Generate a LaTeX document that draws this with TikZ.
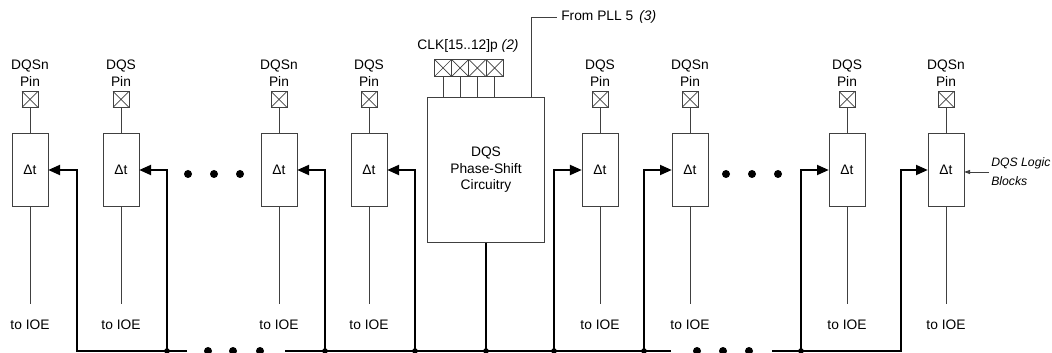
\documentclass[tikz,border=0pt]{standalone}
\usepackage{fontspec}
\setmainfont{Liberation Sans}
\usetikzlibrary{positioning,arrows.meta}

\begin{document}
\begin{tikzpicture}[x=0.025cm, y=-0.025cm, font=\fontsize{9.8}{11.7}\selectfont]
  \tikzstyle{delay}=[draw=black!75,line width=0.6pt,minimum width=0.9cm,minimum height=1.825cm,inner sep=0pt,outer sep=0pt]
  \tikzstyle{pad}=[draw=black!75,line width=0.5pt,minimum size=0.4cm,inner sep=0pt,outer sep=0pt,
    path picture={\draw[black!75,line width=0.5pt] (path picture bounding box.north west) -- (path picture bounding box.south east)
      (path picture bounding box.south west) -- (path picture bounding box.north east);}]
  \tikzstyle{clkpad}=[pad,minimum size=0.43cm]
  \tikzstyle{padlbl}=[align=center,inner sep=0pt]
  \tikzstyle{ioe}=[inner xsep=0pt,inner ysep=0.4cm]
  \tikzstyle{psbox}=[draw=black!75,line width=0.6pt,minimum width=2.925cm,minimum height=3.625cm,align=center,outer sep=0pt]
  \tikzstyle{wire}=[draw=black!75,line width=0.6pt]
  \tikzstyle{bus}=[line width=2pt]
  \tikzstyle{feed}=[bus,-{Triangle[length=0.3cm,width=0.24cm]}]
  \useasboundingbox (0,0) rectangle (1052,353);

  % delay cells
  \node[delay] (d1) at (30,170) {Δt};
  \node[delay] (d2) at (121,170) {Δt};
  \node[delay] (d3) at (279,170) {Δt};
  \node[delay] (d4) at (369,170) {Δt};
  \node[delay] (d5) at (600,170) {Δt};
  \node[delay] (d6) at (690,170) {Δt};
  \node[delay] (d7) at (847,170) {Δt};
  \node[delay] (d8) at (946,170) {Δt};

  % pins and their labels
  \node[pad] (p1) [above=0.65cm of d1] {};
  \node[pad] (p2) [above=0.65cm of d2] {};
  \node[pad] (p3) [above=0.65cm of d3] {};
  \node[pad] (p4) [above=0.65cm of d4] {};
  \node[pad] (p5) [above=0.65cm of d5] {};
  \node[pad] (p6) [above=0.65cm of d6] {};
  \node[pad] (p7) [above=0.65cm of d7] {};
  \node[pad] (p8) [above=0.65cm of d8] {};
  \node[padlbl] (l1) [above=0.12cm of p1] {DQSn\\Pin};
  \node[padlbl] (l2) [above=0.12cm of p2] {DQS\\Pin};
  \node[padlbl] (l3) [above=0.12cm of p3] {DQSn\\Pin};
  \node[padlbl] (l4) [above=0.12cm of p4] {DQS\\Pin};
  \node[padlbl] (l5) [above=0.12cm of p5] {DQS\\Pin};
  \node[padlbl] (l6) [above=0.12cm of p6] {DQSn\\Pin};
  \node[padlbl] (l7) [above=0.12cm of p7] {DQS\\Pin};
  \node[padlbl] (l8) [above=0.12cm of p8] {DQSn\\Pin};

  % outputs
  \node[ioe] (o1) at (30,325) {to IOE};
  \node[ioe] (o2) at (121,325) {to IOE};
  \node[ioe] (o3) at (279,325) {to IOE};
  \node[ioe] (o4) at (369,325) {to IOE};
  \node[ioe] (o5) at (600,325) {to IOE};
  \node[ioe] (o6) at (690,325) {to IOE};
  \node[ioe] (o7) at (847,325) {to IOE};
  \node[ioe] (o8) at (946,325) {to IOE};

  \foreach \i in {1,...,8}{
    \draw[wire] (p\i) -- (d\i);
    \draw[wire] (d\i) -- (o\i);
  }

  % phase-shift block and clock inputs
  \node[psbox] (ps) at (486,170) {DQS\\Phase-Shift\\Circuitry};
  \node[clkpad] (c1) at (443,68) {};
  \node[clkpad] (c2) [right=0pt of c1] {};
  \node[clkpad] (c3) [right=0pt of c2] {};
  \node[clkpad] (c4) [right=0pt of c3] {};
  \node[anchor=base] (clk) at (468,50) {CLK[15..12]p \textit{(2)}};
  \draw[wire] (c1) -- (c1 |- ps.north);
  \draw[wire] (c2) -- (c2 |- ps.north);
  \draw[wire] (c3) -- (c3 |- ps.north);
  \draw[wire] (c4) -- (c4 |- ps.north);
  \coordinate (pll) at (531,17);
  \node[anchor=west,inner sep=0.1cm] (plltxt) at (557,17) {From PLL 5\hspace{0.15cm}\textit{(3)}};
  \draw[wire] (pll |- ps.north) |- (plltxt.west);

  % logic blocks
  \node[anchor=west,align=left,inner sep=0.05cm,font=\fontsize{8.7}{13.5}\selectfont\itshape] (logic) at (989,172) {DQS Logic\\Blocks};
  \draw[wire,-{Triangle[length=0.15cm,width=0.1cm]}] (logic.west) -- (d8.east |- logic.west);

  % bus
  \coordinate (j1) at (77,351);
  \coordinate (j2) at (167,351);
  \coordinate (j3) at (325,351);
  \coordinate (j4) at (415,351);
  \coordinate (jps) at (486,351);
  \coordinate (j5) at (554,351);
  \coordinate (j6) at (644,351);
  \coordinate (j7) at (801,351);
  \coordinate (j8) at (901,351);
  \coordinate (g1) at (187,351);
  \coordinate (g2) at (285,351);
  \coordinate (g3) at (671,351);
  \coordinate (g4) at (772,351);
  \draw[feed] (g1) -- (j1) |- (d1.east);
  \draw[feed] (j2) |- (d2.east);
  \draw[bus] (g2) -- (g3);
  \draw[feed] (j3) |- (d3.east);
  \draw[feed] (j4) |- (d4.east);
  \draw[bus] (ps) -- (jps);
  \draw[feed] (j5) |- (d5.west);
  \draw[feed] (j6) |- (d6.west);
  \draw[feed] (j7) |- (d7.west);
  \draw[feed] (g4) -- (j8) |- (d8.west);
  \fill (j2) circle (0.07cm) (j3) circle (0.07cm) (j4) circle (0.07cm) (jps) circle (0.07cm)
    (j5) circle (0.07cm) (j6) circle (0.07cm) (j7) circle (0.07cm);

  % ellipses
  \fill (188,174) circle (0.1cm) (214,174) circle (0.1cm) (240,174) circle (0.1cm);
  \fill (726,174) circle (0.1cm) (752,174) circle (0.1cm) (778,174) circle (0.1cm);
  \fill (208,351) circle (0.1cm) (233,351) circle (0.1cm) (260,351) circle (0.1cm);
  \fill (697,351) circle (0.1cm) (723,351) circle (0.1cm) (749,351) circle (0.1cm);
\end{tikzpicture}
\end{document}
